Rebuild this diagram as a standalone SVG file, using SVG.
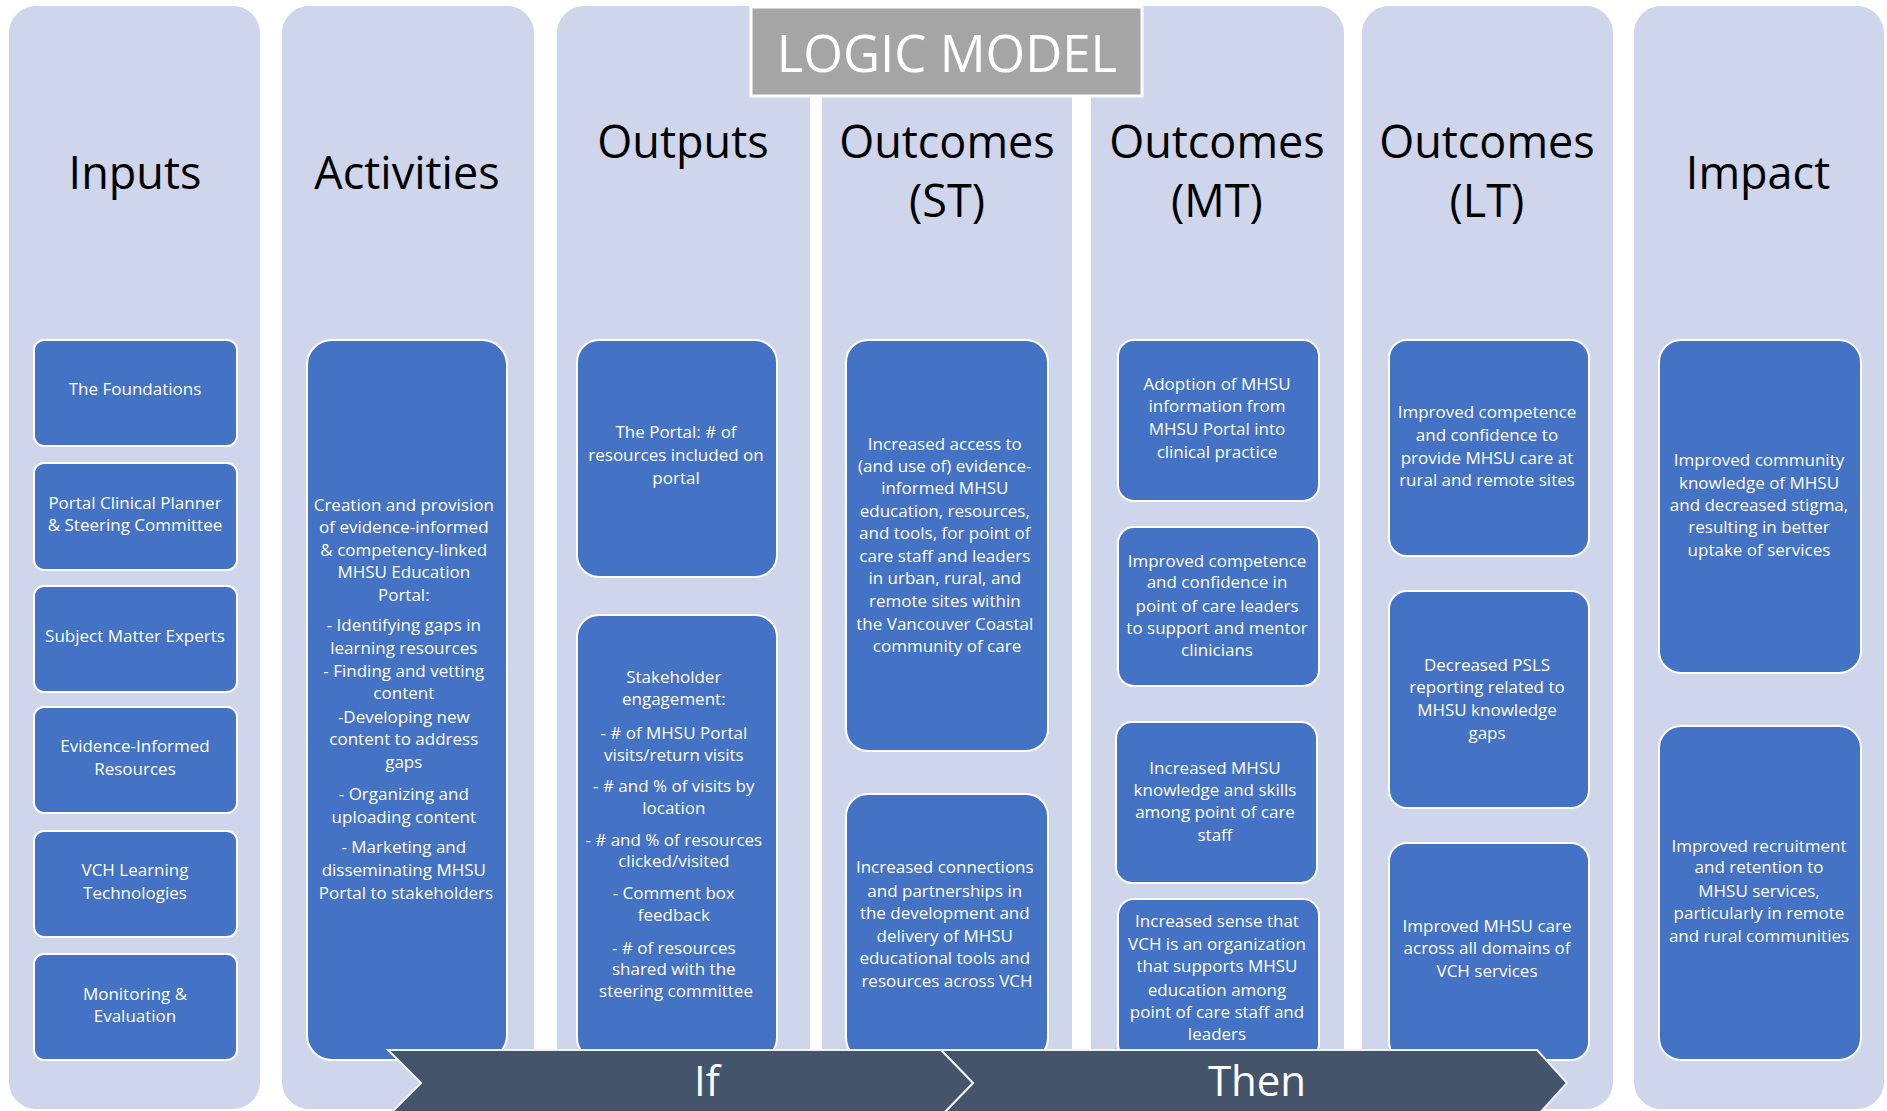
<svg xmlns="http://www.w3.org/2000/svg" width="1887" height="1111" viewBox="0 0 1887 1111">
  <style>
    .col { fill: #CFD5EA; }
    .box { fill: #4472C4; stroke: #FFFFFF; stroke-width: 2; }
    .hdr { font-family: "Open Sans", "Liberation Sans", sans-serif; font-size: 45px; fill: #000000; text-anchor: middle; }
    .txt { font-family: "Open Sans", "Liberation Sans", sans-serif; font-size: 17px; fill: #FFFFFF; text-anchor: middle; }
    .logo { fill: #A5A5A5; stroke: #FFFFFF; stroke-width: 3; }
    .logo-txt { font-family: "Open Sans", "Liberation Sans", sans-serif; font-size: 51px; fill: #FFFFFF; text-anchor: middle; }
    .chev { fill: #44546A; stroke: #F2F2F2; stroke-width: 2; stroke-linejoin: miter; }
    .chev-txt { font-family: "Open Sans", "Liberation Sans", sans-serif; font-size: 42px; fill: #FFFFFF; text-anchor: middle; }
  </style>
  <rect x="0" y="0" width="1887" height="1111" fill="#FFFFFF"/>

  <!-- column backgrounds -->
  <g id="columns">
    <rect id="col-inputs" class="col" x="9" y="6" width="251" height="1103" rx="27"/>
    <rect id="col-activities" class="col" x="282" y="6" width="252" height="1103" rx="27"/>
    <rect id="col-outputs" class="col" x="557" y="6" width="253" height="1103" rx="27"/>
    <rect id="col-st" class="col" x="822" y="6" width="250" height="1103" rx="27"/>
    <rect id="col-mt" class="col" x="1091" y="6" width="253" height="1103" rx="27"/>
    <rect id="col-lt" class="col" x="1362" y="6" width="251" height="1103" rx="27"/>
    <rect id="col-impact" class="col" x="1634" y="6" width="250" height="1103" rx="27"/>
  </g>

  <!-- title banner -->
  <g id="title">
    <rect class="logo" x="751" y="7" width="391" height="89"/>
    <text class="logo-txt" x="947" y="72">LOGIC MODEL</text>
  </g>

  <!-- column headings -->
  <g id="headings">
    <text class="hdr" x="135" y="189">Inputs</text>
    <text class="hdr" x="407" y="189">Activities</text>
    <text class="hdr" x="683" y="158">Outputs</text>
    <text class="hdr" x="947" y="158">Outcomes<tspan x="947" y="217">(ST)</tspan></text>
    <text class="hdr" x="1217" y="158">Outcomes<tspan x="1217" y="217">(MT)</tspan></text>
    <text class="hdr" x="1487" y="158">Outcomes<tspan x="1487" y="217">(LT)</tspan></text>
    <text class="hdr" x="1758" y="189">Impact</text>
  </g>

  <!-- Inputs -->
  <g id="input-foundations">
    <rect class="box" x="34" y="340" width="203" height="106" rx="10"/>
    <text class="txt" x="135" y="395">The Foundations</text>
  </g>
  <g id="input-planner">
    <rect class="box" x="34" y="463" width="203" height="107" rx="10"/>
    <text class="txt"><tspan x="135" y="509">Portal Clinical Planner</tspan><tspan x="135" y="531">&amp; Steering Committee</tspan></text>
  </g>
  <g id="input-experts">
    <rect class="box" x="34" y="586" width="203" height="106" rx="10"/>
    <text class="txt" x="135" y="642">Subject Matter Experts</text>
  </g>
  <g id="input-resources">
    <rect class="box" x="34" y="707" width="203" height="106" rx="10"/>
    <text class="txt"><tspan x="135" y="752">Evidence-Informed</tspan><tspan x="135" y="775">Resources</tspan></text>
  </g>
  <g id="input-learning-tech">
    <rect class="box" x="34" y="831" width="203" height="106" rx="10"/>
    <text class="txt"><tspan x="135" y="876">VCH Learning</tspan><tspan x="135" y="899">Technologies</tspan></text>
  </g>
  <g id="input-monitoring">
    <rect class="box" x="34" y="954" width="203" height="106" rx="10"/>
    <text class="txt"><tspan x="135" y="1000">Monitoring &amp;</tspan><tspan x="135" y="1022">Evaluation</tspan></text>
  </g>

  <!-- Activities -->
  <g id="activity-portal">
    <rect class="box" x="307" y="340" width="200" height="720" rx="25"/>
    <text class="txt">
      <tspan x="406" y="511">Creation and provision</tspan>
      <tspan x="406" y="533">of evidence-informed</tspan>
      <tspan x="406" y="556">&amp; competency-linked</tspan>
      <tspan x="406" y="578">MHSU Education</tspan>
      <tspan x="406" y="601">Portal:</tspan>
      <tspan x="406" y="631">- Identifying gaps in</tspan>
      <tspan x="406" y="654">learning resources</tspan>
      <tspan x="406" y="677">- Finding and vetting</tspan>
      <tspan x="406" y="699">content</tspan>
      <tspan x="406" y="723">-Developing new</tspan>
      <tspan x="406" y="745">content to address</tspan>
      <tspan x="406" y="768">gaps</tspan>
      <tspan x="406" y="800">- Organizing and</tspan>
      <tspan x="406" y="823">uploading content</tspan>
      <tspan x="406" y="853">- Marketing and</tspan>
      <tspan x="406" y="876">disseminating MHSU</tspan>
      <tspan x="406" y="899">Portal to stakeholders</tspan>
    </text>
  </g>

  <!-- Outputs -->
  <g id="output-portal">
    <rect class="box" x="577" y="340" width="200" height="237" rx="22"/>
    <text class="txt"><tspan x="676" y="438">The Portal: # of</tspan><tspan x="676" y="461">resources included on</tspan><tspan x="676" y="484">portal</tspan></text>
  </g>
  <g id="output-engagement">
    <rect class="box" x="577" y="615" width="200" height="445" rx="22"/>
    <text class="txt">
      <tspan x="676" y="683">Stakeholder</tspan>
      <tspan x="676" y="705">engagement:</tspan>
      <tspan x="676" y="739">- # of MHSU Portal</tspan>
      <tspan x="676" y="761">visits/return visits</tspan>
      <tspan x="676" y="792">- # and % of visits by</tspan>
      <tspan x="676" y="814">location</tspan>
      <tspan x="676" y="846">- # and % of resources</tspan>
      <tspan x="676" y="867">clicked/visited</tspan>
      <tspan x="676" y="899">- Comment box</tspan>
      <tspan x="676" y="921">feedback</tspan>
      <tspan x="676" y="954">- # of resources</tspan>
      <tspan x="676" y="975">shared with the</tspan>
      <tspan x="676" y="997">steering committee</tspan>
    </text>
  </g>

  <!-- Outcomes (ST) -->
  <g id="st-access">
    <rect class="box" x="846" y="340" width="202" height="411" rx="22"/>
    <text class="txt">
      <tspan x="947" y="450">Increased access to</tspan>
      <tspan x="947" y="472">(and use of) evidence-</tspan>
      <tspan x="947" y="494">informed MHSU</tspan>
      <tspan x="947" y="517">education, resources,</tspan>
      <tspan x="947" y="539">and tools, for point of</tspan>
      <tspan x="947" y="562">care staff and leaders</tspan>
      <tspan x="947" y="584">in urban, rural, and</tspan>
      <tspan x="947" y="607">remote sites within</tspan>
      <tspan x="947" y="630">the Vancouver Coastal</tspan>
      <tspan x="947" y="652">community of care</tspan>
    </text>
  </g>
  <g id="st-connections">
    <rect class="box" x="846" y="794" width="202" height="266" rx="22"/>
    <text class="txt">
      <tspan x="947" y="873">Increased connections</tspan>
      <tspan x="947" y="897">and partnerships in</tspan>
      <tspan x="947" y="919">the development and</tspan>
      <tspan x="947" y="942">delivery of MHSU</tspan>
      <tspan x="947" y="964">educational tools and</tspan>
      <tspan x="947" y="987">resources across VCH</tspan>
    </text>
  </g>

  <!-- Outcomes (MT) -->
  <g id="mt-adoption">
    <rect class="box" x="1118" y="340" width="201" height="161" rx="16"/>
    <text class="txt"><tspan x="1217" y="390">Adoption of MHSU</tspan><tspan x="1217" y="412">information from</tspan><tspan x="1217" y="435">MHSU Portal into</tspan><tspan x="1217" y="458">clinical practice</tspan></text>
  </g>
  <g id="mt-leaders">
    <rect class="box" x="1118" y="527" width="201" height="159" rx="16"/>
    <text class="txt"><tspan x="1217" y="567">Improved competence</tspan><tspan x="1217" y="588">and confidence in</tspan><tspan x="1217" y="612">point of care leaders</tspan><tspan x="1217" y="634">to support and mentor</tspan><tspan x="1217" y="656">clinicians</tspan></text>
  </g>
  <g id="mt-knowledge">
    <rect class="box" x="1116" y="722" width="201" height="161" rx="16"/>
    <text class="txt"><tspan x="1215" y="774">Increased MHSU</tspan><tspan x="1215" y="796">knowledge and skills</tspan><tspan x="1215" y="818">among point of care</tspan><tspan x="1215" y="841">staff</tspan></text>
  </g>
  <g id="mt-organization">
    <rect class="box" x="1118" y="899" width="201" height="161" rx="16"/>
    <text class="txt"><tspan x="1217" y="927">Increased sense that</tspan><tspan x="1217" y="950">VCH is an organization</tspan><tspan x="1217" y="972">that supports MHSU</tspan><tspan x="1217" y="996">education among</tspan><tspan x="1217" y="1018">point of care staff and</tspan><tspan x="1217" y="1040">leaders</tspan></text>
  </g>

  <!-- Outcomes (LT) -->
  <g id="lt-rural-care">
    <rect class="box" x="1389" y="340" width="200" height="216" rx="18"/>
    <text class="txt"><tspan x="1487" y="418">Improved competence</tspan><tspan x="1487" y="441">and confidence to</tspan><tspan x="1487" y="464">provide MHSU care at</tspan><tspan x="1487" y="486">rural and remote sites</tspan></text>
  </g>
  <g id="lt-psls">
    <rect class="box" x="1389" y="591" width="200" height="217" rx="18"/>
    <text class="txt"><tspan x="1487" y="671">Decreased PSLS</tspan><tspan x="1487" y="693">reporting related to</tspan><tspan x="1487" y="716">MHSU knowledge</tspan><tspan x="1487" y="739">gaps</tspan></text>
  </g>
  <g id="lt-care">
    <rect class="box" x="1389" y="843" width="200" height="217" rx="18"/>
    <text class="txt"><tspan x="1487" y="932">Improved MHSU care</tspan><tspan x="1487" y="954">across all domains of</tspan><tspan x="1487" y="977">VCH services</tspan></text>
  </g>

  <!-- Impact -->
  <g id="impact-community">
    <rect class="box" x="1659" y="340" width="202" height="333" rx="22"/>
    <text class="txt"><tspan x="1759" y="466">Improved community</tspan><tspan x="1759" y="489">knowledge of MHSU</tspan><tspan x="1759" y="511">and decreased stigma,</tspan><tspan x="1759" y="533">resulting in better</tspan><tspan x="1759" y="556">uptake of services</tspan></text>
  </g>
  <g id="impact-recruitment">
    <rect class="box" x="1659" y="726" width="202" height="334" rx="22"/>
    <text class="txt"><tspan x="1759" y="852">Improved recruitment</tspan><tspan x="1759" y="873">and retention to</tspan><tspan x="1759" y="897">MHSU services,</tspan><tspan x="1759" y="919">particularly in remote</tspan><tspan x="1759" y="942">and rural communities</tspan></text>
  </g>

  <!-- If / Then chevrons along the bottom -->
  <g id="chevrons">
    <g id="chevron-then">
      <path class="chev" d="M941,1050 L1537,1050 L1567,1083 L1537,1116 L941,1116 L973,1083 Z"/>
      <text class="chev-txt" x="1257" y="1096">Then</text>
    </g>
    <g id="chevron-if">
      <path class="chev" d="M388,1050 L941,1050 L973,1083 L941,1116 L388,1116 L421,1083 Z"/>
      <text class="chev-txt" x="707" y="1096">If</text>
    </g>
  </g>
</svg>
